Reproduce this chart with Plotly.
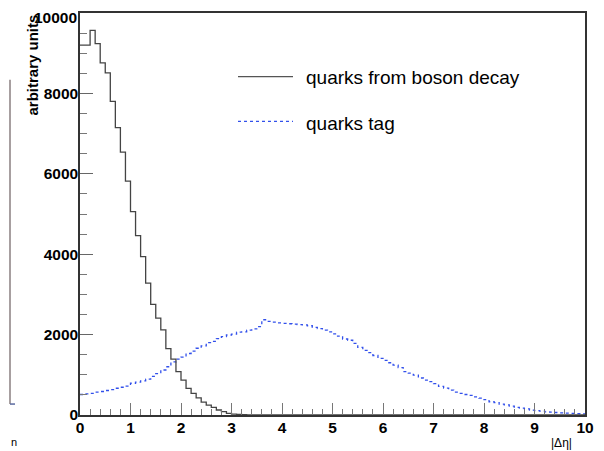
import plotly.graph_objects as go

# |delta eta| histograms, 100 bins of width 0.1 from 0 to 10
bin_width = 0.1
n_bins = 100

boson_decay = [
    9200, 9200, 9570, 9240, 8760, 8510, 7800, 7150, 6540, 5820,
    5060, 4460, 3940, 3280, 2750, 2410, 2120, 1650, 1390, 1080,
    866, 660, 536, 425, 320, 248, 190, 124, 83, 41,
    20, 12, 8, 5, 4, 3, 2, 2, 1, 1,
    0, 0, 0, 0, 0, 0, 0, 0, 0, 0,
    0, 0, 0, 0, 0, 0, 0, 0, 0, 0,
    0, 0, 0, 0, 0, 0, 0, 0, 0, 0,
    0, 0, 0, 0, 0, 0, 0, 0, 0, 0,
    0, 0, 0, 0, 0, 0, 0, 0, 0, 0,
    0, 0, 0, 0, 0, 0, 0, 0, 0, 0,
]

quarks_tag = [
    510, 525, 540, 570, 585, 610, 630, 665, 690, 720,
    790, 820, 850, 890, 960, 1030, 1120, 1200, 1320, 1390,
    1440, 1530, 1590, 1660, 1720, 1800, 1830, 1900, 1950, 1990,
    2010, 2060, 2070, 2110, 2140, 2200, 2370, 2330, 2310, 2290,
    2280, 2270, 2260, 2250, 2240, 2220, 2180, 2150, 2110, 2070,
    2020, 1960, 1890, 1860, 1780, 1680, 1610, 1550, 1480, 1410,
    1360, 1300, 1240, 1180, 1080, 1040, 990, 920, 870, 830,
    780, 710, 670, 620, 570, 540, 510, 490, 450, 420,
    380, 330, 310, 270, 250, 220, 190, 170, 150, 120,
    110, 95, 80, 70, 62, 55, 45, 40, 35, 28,
]

legend_labels = ["quarks from boson decay", "quarks tag"]
y_ticks = [0, 2000, 4000, 6000, 8000, 10000]
y_ticktext = ["0", "2000", "4000", "6000", "8000", ""]  # top label drawn separately

edges = [round(i * bin_width, 2) for i in range(n_bins + 1)]


def step(vals):
    return vals + [vals[-1]]


fig = go.Figure()
fig.add_trace(go.Scatter(
    x=edges, y=step(quarks_tag), mode="lines", line_shape="hv",
    line=dict(color="rgb(50,80,235)", width=1.3, dash="dot"),
    showlegend=False,
))
fig.add_trace(go.Scatter(
    x=edges, y=step(boson_decay), mode="lines", line_shape="hv",
    line=dict(color="#444444", width=1.3),
    showlegend=False,
))

tick_font = dict(family="Liberation Sans", size=15.5, color="black", weight="bold")

fig.update_xaxes(
    range=[0, 10], dtick=1, tick0=0, ticks="inside", ticklen=12, tickwidth=1,
    tickcolor="#777777", showgrid=False, zeroline=False,
    showline=True, linecolor="#333333", linewidth=1.5, mirror=True,
    tickfont=tick_font, ticklabelstandoff=-2,
    minor=dict(ticks="inside", ticklen=6, dtick=0.2, tickcolor="#777777", showgrid=False),
)
fig.update_yaxes(
    range=[0, 10000], tickvals=y_ticks, ticktext=y_ticktext,
    ticks="inside", ticklen=13, tickwidth=1,
    tickcolor="#666666", showgrid=False, zeroline=False,
    showline=True, linecolor="#333333", linewidth=1.5, mirror=True,
    tickfont=tick_font, ticklabelstandoff=-3,
    minor=dict(ticks="inside", ticklen=7, dtick=500, tickcolor="#777777", showgrid=False),
)

# page body has an 8px margin, so the figure is sized to fit the window
page_pad = 8
plot_l, plot_r, plot_t, plot_b = 80, 585, 11, 415


def px(x):
    return (x - plot_l) / (plot_r - plot_l)


def py(y):
    return (plot_b - y) / (plot_b - plot_t)


# top y label sits a little below its tick, as in ROOT
fig.add_annotation(xref="paper", yref="paper", x=px(79), y=py(16),
                   text="10000", showarrow=False,
                   xanchor="right", yanchor="middle", font=tick_font)

# hand-made ROOT style legend (no box)
fig.add_shape(type="line", xref="paper", yref="paper",
              x0=px(238), x1=px(293), y0=py(75), y1=py(75),
              line=dict(color="#555555", width=1.3))
fig.add_shape(type="line", xref="paper", yref="paper",
              x0=px(238), x1=px(293), y0=py(120), y1=py(120),
              line=dict(color="rgb(50,80,235)", width=1.3, dash="dot"))
fig.add_annotation(xref="paper", yref="paper", x=px(304), y=py(76),
                   text=legend_labels[0], showarrow=False,
                   xanchor="left", yanchor="middle",
                   font=dict(family="Liberation Sans", size=19, color="black"))
fig.add_annotation(xref="paper", yref="paper", x=px(304), y=py(122),
                   text=legend_labels[1], showarrow=False,
                   xanchor="left", yanchor="middle",
                   font=dict(family="Liberation Sans", size=19, color="black"))

# axis titles
fig.add_annotation(xref="paper", yref="paper", x=px(32), y=py(11),
                   text="arbitrary units", textangle=-90, showarrow=False,
                   xanchor="center", yanchor="top",
                   font=dict(family="Liberation Sans", size=15, color="black", weight="bold"))
fig.add_annotation(xref="paper", yref="paper", x=px(574), y=py(434),
                   text="|\u0394\u03b7|", showarrow=False,
                   xanchor="right", yanchor="top",
                   font=dict(family="Liberation Sans", size=12, color="black"))

# leftover edge of the neighbouring panel
fig.add_shape(type="line", xref="paper", yref="paper",
              x0=px(10), x1=px(10), y0=py(78), y1=py(404),
              line=dict(color="#8a7f80", width=1.5))
fig.add_shape(type="line", xref="paper", yref="paper",
              x0=px(10), x1=px(15), y0=py(404), y1=py(404),
              line=dict(color="#5a6aa0", width=1.5))
fig.add_annotation(xref="paper", yref="paper", x=px(9), y=py(434),
                   text="n", showarrow=False, xanchor="left", yanchor="top",
                   font=dict(family="Liberation Sans", size=11, color="black"))

fig.update_layout(
    width=604 - page_pad, height=451 - page_pad,
    margin=dict(l=plot_l - page_pad, r=604 - plot_r, t=plot_t - page_pad, b=451 - plot_b),
    plot_bgcolor="white", paper_bgcolor="white",
)

fig.write_html("out.html")
